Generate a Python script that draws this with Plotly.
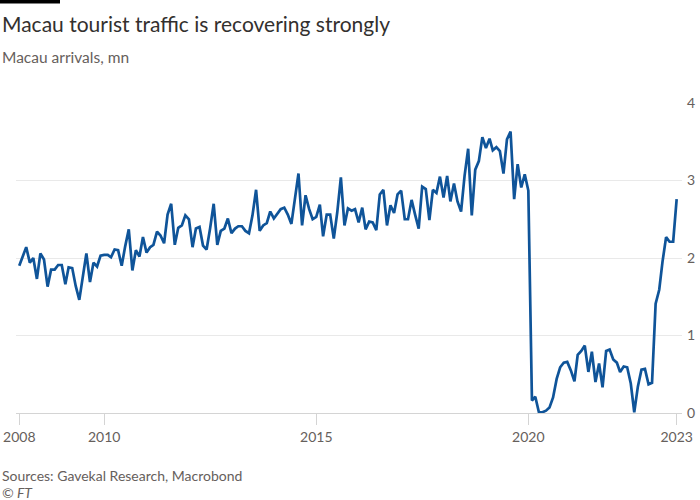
import plotly.graph_objects as go
import pandas as pd

# Monthly Macau visitor arrivals (mn), Jan 2008 - Jul 2023
arrivals_2008 = [1.90, 2.02, 2.14, 1.94, 2.00, 1.73, 2.06, 1.98, 1.63, 1.85, 1.85, 1.91]
arrivals_2009 = [1.91, 1.66, 1.88, 1.87, 1.64, 1.46, 1.76, 2.06, 1.69, 1.94, 1.89, 2.03]
arrivals_2010 = [2.04, 2.04, 2.01, 2.11, 2.10, 1.90, 2.15, 2.37, 1.84, 2.10, 2.02, 2.27]
arrivals_2011 = [2.07, 2.14, 2.17, 2.34, 2.29, 2.19, 2.56, 2.70, 2.17, 2.39, 2.42, 2.55]
arrivals_2012 = [2.50, 2.14, 2.38, 2.40, 2.16, 2.11, 2.38, 2.70, 2.17, 2.35, 2.38, 2.51]
arrivals_2013 = [2.32, 2.38, 2.41, 2.41, 2.35, 2.32, 2.55, 2.88, 2.35, 2.42, 2.45, 2.60]
arrivals_2014 = [2.51, 2.57, 2.63, 2.65, 2.56, 2.44, 2.76, 3.09, 2.42, 2.81, 2.63, 2.50]
arrivals_2015 = [2.53, 2.69, 2.28, 2.56, 2.56, 2.25, 2.59, 3.04, 2.42, 2.64, 2.61, 2.63]
arrivals_2016 = [2.46, 2.65, 2.37, 2.47, 2.46, 2.36, 2.82, 2.88, 2.42, 2.68, 2.58, 2.82]
arrivals_2017 = [2.87, 2.50, 2.50, 2.75, 2.56, 2.38, 2.92, 2.89, 2.49, 2.88, 2.84, 3.05]
arrivals_2018 = [2.78, 3.06, 2.73, 2.96, 2.73, 2.60, 3.06, 3.41, 2.55, 3.14, 3.25, 3.56]
arrivals_2019 = [3.42, 3.54, 3.39, 3.43, 3.38, 3.09, 3.53, 3.63, 2.76, 3.21, 2.91, 3.08]
arrivals_2020 = [2.87, 0.16, 0.21, 0.01, 0.01, 0.03, 0.07, 0.20, 0.44, 0.59, 0.65, 0.66]
arrivals_2021 = [0.55, 0.41, 0.75, 0.80, 0.87, 0.53, 0.79, 0.40, 0.64, 0.33, 0.80, 0.82]
arrivals_2022 = [0.69, 0.65, 0.53, 0.60, 0.59, 0.38, 0.01, 0.34, 0.56, 0.57, 0.37, 0.39]
arrivals_2023 = [1.41, 1.59, 1.95, 2.27, 2.21, 2.21, 2.76]

values = (arrivals_2008 + arrivals_2009 + arrivals_2010 + arrivals_2011 + arrivals_2012
          + arrivals_2013 + arrivals_2014 + arrivals_2015 + arrivals_2016 + arrivals_2017
          + arrivals_2018 + arrivals_2019 + arrivals_2020 + arrivals_2021 + arrivals_2022
          + arrivals_2023)
dates = pd.date_range("2008-01-01", periods=len(values), freq="MS")

x_tick_vals = ["2008-01-01", "2010-01-01", "2015-01-01", "2020-01-01", "2023-07-01"]
x_tick_text = ["2008", "2010", "2015", "2020", "2023"]
y_tick_vals = [0, 1, 2, 3, 4]

FONT = "Lato"
GREY = "#66605c"
DARK = "#33302e"

# plot area in pixels
L, R, T, B = 16, 682, 103.3, 412.7
W, H = 700, 500
pw, ph = R - L, B - T

def px_x(p):
    return (p - L) / pw

def px_y(p):
    return (B - p) / ph

fig = go.Figure()
fig.add_trace(go.Scatter(
    x=dates, y=values, mode="lines",
    line=dict(color="#0f5499", width=2.7),
    hoverinfo="skip", showlegend=False,
))

fig.update_layout(
    width=W, height=H,
    margin=dict(l=L, r=W - R, t=T, b=H - B, pad=0, autoexpand=False),
    paper_bgcolor="white", plot_bgcolor="white",
    font=dict(family=FONT, color=GREY, size=14),
    xaxis=dict(
        range=["2007-12-04", "2023-08-16"],
        tickvals=x_tick_vals, ticktext=x_tick_text,
        showgrid=False, zeroline=False, automargin=False,
        showline=True, linecolor="#d4d4d4", linewidth=1.2,
        ticks="outside", ticklen=11, tickcolor="#d4d4d4", tickwidth=1,
        tickfont=dict(size=14, color=GREY, family=FONT),
        fixedrange=True,
    ),
    yaxis=dict(
        range=[0, 4], side="right", automargin=False,
        tickvals=y_tick_vals,
        showgrid=True, gridcolor="#e9e9e9", gridwidth=1,
        zeroline=False, showline=False,
        ticks="", ticklabelstandoff=4,
        tickfont=dict(size=14, color=GREY, family=FONT),
        fixedrange=True,
    ),
    shapes=[dict(type="rect", xref="paper", yref="paper",
                 x0=px_x(0), x1=px_x(60), y0=px_y(4), y1=px_y(0),
                 fillcolor="black", line=dict(width=0))],
    annotations=[
        dict(text="Macau tourist traffic is recovering strongly", xref="paper", yref="paper",
             x=px_x(0), y=px_y(24), xanchor="left", yanchor="middle", showarrow=False,
             font=dict(size=21, color=DARK, family=FONT)),
        dict(text="Macau arrivals, mn", xref="paper", yref="paper",
             x=px_x(0), y=px_y(57), xanchor="left", yanchor="middle", showarrow=False,
             font=dict(size=15.5, color=GREY, family=FONT)),
        dict(text="Sources: Gavekal Research, Macrobond", xref="paper", yref="paper",
             x=px_x(0), y=px_y(475), xanchor="left", yanchor="middle", showarrow=False,
             font=dict(size=14, color=GREY, family=FONT)),
        dict(text="<i>© FT</i>", xref="paper", yref="paper",
             x=px_x(0), y=px_y(492), xanchor="left", yanchor="middle", showarrow=False,
             font=dict(size=14, color=GREY, family=FONT)),
    ],
)

fig.write_html(
    "out.html",
    config={"displayModeBar": False, "staticPlot": True},
    post_script="document.body.style.margin='0';document.body.style.overflow='hidden';",
)
